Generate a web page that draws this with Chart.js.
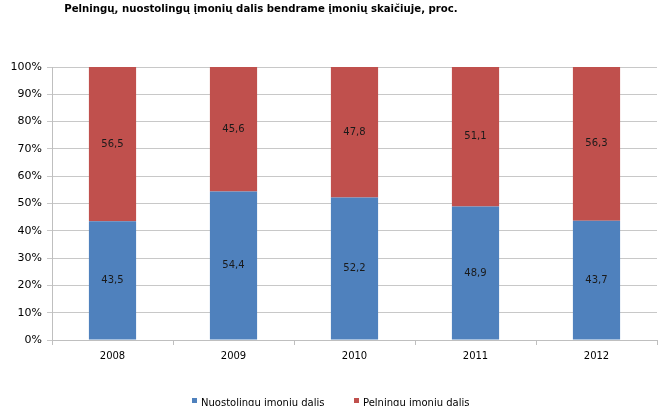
<!DOCTYPE html>
<html>
<head>
<meta charset="utf-8">
<script src="https://cdn.jsdelivr.net/npm/chart.js@4"></script>
<style>
html,body{margin:0;padding:0;background:#fff;}
#wrap{width:664px;height:406px;position:relative;}
</style>
</head>
<body>
<div id="wrap"><canvas id="c" width="664" height="406"></canvas></div>
<script>
const categories = ['2008', '2009', '2010', '2011', '2012'];
const lossMaking = [43.5, 54.4, 52.2, 48.9, 43.7];
const profitable = [56.5, 45.6, 47.8, 51.1, 56.3];
const seriesNames = ['Nuostolingų įmonių dalis', 'Pelningų įmonių dalis'];
const yTicks = [0, 10, 20, 30, 40, 50, 60, 70, 80, 90, 100];
const titleText = 'Pelningų, nuostolingų įmonių dalis bendrame įmonių skaičiuje, proc.';

const BLUE = '#4F81BD', RED = '#C0504D';
const FONT = '"DejaVu Sans", Verdana, sans-serif';

const titlePlugin = {
  id: 'customTitle',
  afterDraw(chart) {
    const ctx = chart.ctx;
    ctx.save();
    ctx.font = 'bold 11.3px "DejaVu Sans Condensed", "DejaVu Sans", sans-serif';
    ctx.fillStyle = '#000';
    ctx.textAlign = 'center';
    ctx.textBaseline = 'alphabetic';
    ctx.fillText(titleText, 261, 12);
    ctx.restore();
  }
};

const valueLabels = {
  id: 'valueLabels',
  afterDatasetsDraw(chart) {
    const ctx = chart.ctx;
    ctx.save();
    ctx.font = '10px ' + FONT;
    ctx.fillStyle = '#1a1a1a';
    ctx.textAlign = 'center';
    ctx.textBaseline = 'middle';
    chart.data.datasets.forEach((ds, di) => {
      const meta = chart.getDatasetMeta(di);
      meta.data.forEach((bar, i) => {
        const mid = (bar.y + bar.base) / 2;
        ctx.fillText(ds.data[i].toFixed(1).replace('.', ','), bar.x, mid);
      });
    });
    ctx.restore();
  }
};

const legendPlugin = {
  id: 'customLegend',
  afterDraw(chart) {
    const ctx = chart.ctx;
    ctx.save();
    ctx.font = '10px ' + FONT;
    ctx.textBaseline = 'alphabetic';
    ctx.textAlign = 'left';
    const starts = [192, 354];
    chart.data.datasets.forEach((ds, di) => {
      const x = starts[di];
      ctx.fillStyle = ds.backgroundColor;
      ctx.fillRect(x, 398, 5, 5);
      ctx.fillStyle = '#000';
      ctx.fillText(ds.label, x + 9, 406);
    });
    ctx.restore();
  }
};

new Chart(document.getElementById('c'), {
  type: 'bar',
  data: {
    labels: categories,
    datasets: [
      { label: seriesNames[0], data: lossMaking, backgroundColor: BLUE },
      { label: seriesNames[1], data: profitable, backgroundColor: RED }
    ]
  },
  options: {
    responsive: false,
    animation: false,
    devicePixelRatio: 1,
    layout: { padding: { top: 67, right: 7, left: 0, bottom: 0 } },
    datasets: { bar: { categoryPercentage: 1, barPercentage: 0.39 } },
    plugins: { legend: { display: false }, title: { display: false }, tooltip: { enabled: false } },
    scales: {
      x: {
        stacked: true,
        offset: true,
        afterFit(s) { s.height = 66; },
        grid: { offset: true, drawOnChartArea: false, drawTicks: true, tickLength: 5, color: '#bfbfbf' },
        border: { color: '#bfbfbf' },
        ticks: { color: '#000', font: { family: FONT, size: 10 }, padding: 5, maxRotation: 0 }
      },
      y: {
        stacked: true,
        min: 0, max: 100,
        afterFit(s) { s.width = 52; },
        afterBuildTicks(s) { s.ticks = yTicks.map(v => ({ value: v })); },
        grid: { color: '#c8c8c8', tickLength: 5, drawTicks: true },
        border: { color: '#bfbfbf' },
        ticks: { color: '#000', font: { family: FONT, size: 11 }, padding: 5, callback: v => v + '%' }
      }
    }
  },
  plugins: [titlePlugin, valueLabels, legendPlugin]
});
</script>
</body>
</html>
